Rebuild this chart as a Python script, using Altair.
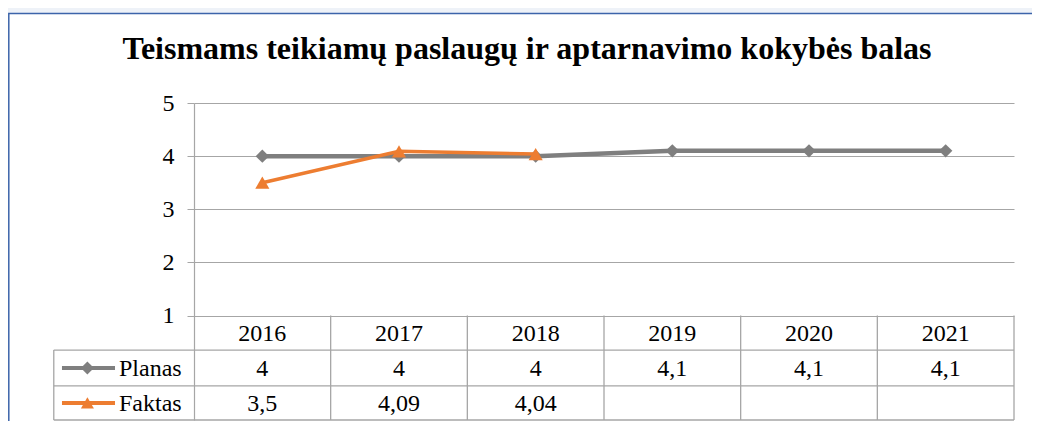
import altair as alt
import pandas as pd

# ---- data ----
years = ["2016", "2017", "2018", "2019", "2020", "2021"]
planas = [4, 4, 4, 4.1, 4.1, 4.1]
faktas = [3.5, 4.09, 4.04, None, None, None]
series_names = ["Planas", "Faktas"]
series_colors = ["#7f7f7f", "#ed7d31"]
series_shapes = ["diamond", "triangle-up"]
y_ticks = [1, 2, 3, 4, 5]
title_text = "Teismams teikiamų paslaugų ir aptarnavimo kokybės balas"

# ---- layout constants ----
FONT = "'Liberation Serif', 'Times New Roman', serif"
GRID = "#a6a6a6"
W, H = 820, 317
Y_MIN, Y_MAX = -0.964, 5.0
ROWS = [1.0, 0.351, -0.321, -0.964]   # table row borders (y units)
LEG_LEFT = -1.026                      # left edge of legend column (x units)
n = len(years)


def fmt(v):
    if v is None:
        return ""
    return ("%g" % v).replace(".", ",")


xs = alt.Scale(domain=[0, n], nice=False, zero=False)
ys = alt.Scale(domain=[Y_MIN, Y_MAX], nice=False, zero=False)
cs = alt.Scale(domain=series_names, range=series_colors)
ss = alt.Scale(domain=series_names, range=series_shapes)

one = pd.DataFrame({"a": [0]})
# light strip above the frame
strip = alt.Chart(one).mark_rect(fill="#eef2f8").encode(
    x=alt.value(-195), x2=alt.value(845), y=alt.value(-100), y2=alt.value(-89.5)
)
# frame border
frame = alt.Chart(one).mark_rect(
    fillOpacity=0, stroke="#3c64aa", strokeWidth=1.5
).encode(
    x=alt.value(-185.2), x2=alt.value(845), y=alt.value(-89.5), y2=alt.value(330)
)

# axis + grid (carrier layer)
axis_df = pd.DataFrame({"y": y_ticks})
axis_layer = alt.Chart(axis_df).mark_point(opacity=0).encode(
    y=alt.Y("y:Q", scale=ys, axis=alt.Axis(
        values=y_ticks, grid=True, gridColor=GRID, gridWidth=1,
        domainColor=GRID, domainWidth=1.2, tickColor=GRID, tickSize=7,
        labelFont=FONT, labelFontSize=24, labelColor="black",
        labelPadding=13, title=None)),
    x=alt.value(0),
)

# table lines
seg = []
for yb in ROWS[1:]:
    seg.append({"x": LEG_LEFT, "x2": n, "y": yb, "y2": yb})
seg.append({"x": LEG_LEFT, "x2": LEG_LEFT, "y": ROWS[1], "y2": ROWS[3]})
for i in range(1, n + 1):
    seg.append({"x": i, "x2": i, "y": ROWS[0], "y2": ROWS[3]})
seg_df = pd.DataFrame(seg)
table_lines = alt.Chart(seg_df).mark_rule(color=GRID, strokeWidth=1.3).encode(
    x=alt.X("x:Q", scale=xs, axis=None), x2="x2:Q",
    y=alt.Y("y:Q", scale=ys), y2="y2:Q",
)

# table text
cells = []
row_mid = [(ROWS[k] + ROWS[k + 1]) / 2 for k in range(3)]
for i, yr in enumerate(years):
    cells.append({"x": i + 0.5, "y": row_mid[0], "t": yr})
    cells.append({"x": i + 0.5, "y": row_mid[1], "t": fmt(planas[i])})
    cells.append({"x": i + 0.5, "y": row_mid[2], "t": fmt(faktas[i])})
cells_df = pd.DataFrame(cells)
table_text = alt.Chart(cells_df).mark_text(
    font=FONT, fontSize=24, color="black", baseline="middle", align="center", dy=1
).encode(
    x=alt.X("x:Q", scale=xs, axis=None), y=alt.Y("y:Q", scale=ys), text="t:N"
)

# legend in table
leg_df = pd.DataFrame({
    "s": series_names,
    "y": row_mid[1:],
    "x0": [-0.966, -0.966],
    "x1": [-0.578, -0.578],
    "xm": [-0.78, -0.78],
    "xt": [-0.549, -0.549],
})
leg_line = alt.Chart(leg_df).mark_rule(strokeWidth=4).encode(
    x=alt.X("x0:Q", scale=xs, axis=None), x2="x1:Q", y=alt.Y("y:Q", scale=ys),
    color=alt.Color("s:N", scale=cs, legend=None),
)
leg_mark = alt.Chart(leg_df).mark_point(filled=True, opacity=1, size=170).encode(
    x=alt.X("xm:Q", scale=xs, axis=None), y=alt.Y("y:Q", scale=ys),
    color=alt.Color("s:N", scale=cs, legend=None),
    shape=alt.Shape("s:N", scale=ss, legend=None),
)
leg_text = alt.Chart(leg_df).mark_text(
    font=FONT, fontSize=24, color="black", baseline="middle", align="left", dy=1
).encode(
    x=alt.X("xt:Q", scale=xs, axis=None), y=alt.Y("y:Q", scale=ys), text="s:N"
)

# series
plan_df = pd.DataFrame({"x": [i + 0.5 for i in range(n)], "y": planas, "s": "Planas"})
fakt_df = pd.DataFrame({"x": [i + 0.5 for i in range(n)], "y": faktas, "s": "Faktas"}).dropna()

plan_line = alt.Chart(plan_df).mark_line(strokeWidth=4.5).encode(
    x=alt.X("x:Q", scale=xs, axis=None), y=alt.Y("y:Q", scale=ys),
    color=alt.Color("s:N", scale=cs, legend=None),
)
plan_pts = alt.Chart(plan_df).mark_point(filled=True, opacity=1, size=180).encode(
    x=alt.X("x:Q", scale=xs, axis=None), y=alt.Y("y:Q", scale=ys),
    color=alt.Color("s:N", scale=cs, legend=None),
    shape=alt.Shape("s:N", scale=ss, legend=None),
)
fakt_line = alt.Chart(fakt_df).mark_line(strokeWidth=3.5).encode(
    x=alt.X("x:Q", scale=xs, axis=None), y=alt.Y("y:Q", scale=ys),
    color=alt.Color("s:N", scale=cs, legend=None),
)
fakt_pts = alt.Chart(fakt_df).mark_point(filled=True, opacity=1, size=200).encode(
    x=alt.X("x:Q", scale=xs, axis=None), y=alt.Y("y:Q", scale=ys),
    color=alt.Color("s:N", scale=cs, legend=None),
    shape=alt.Shape("s:N", scale=ss, legend=None),
)

chart = alt.layer(
    strip, frame, axis_layer, table_lines, table_text, leg_line, leg_mark, leg_text,
    plan_line, plan_pts, fakt_line, fakt_pts,
).properties(
    width=W, height=H,
    title=alt.TitleParams(
        title_text, font=FONT, fontSize=32, fontWeight="bold", color="black",
        anchor="middle", frame="group", baseline="alphabetic",
        offset=0, dx=-77, dy=88,
    ),
    autosize=alt.AutoSizeParams(type="none"),
    padding={"left": 186, "top": 95, "right": 18, "bottom": 1},
    background="white",
).configure_view(stroke=None)

chart.save("out.html", embed_options={"renderer": "svg", "actions": False})
